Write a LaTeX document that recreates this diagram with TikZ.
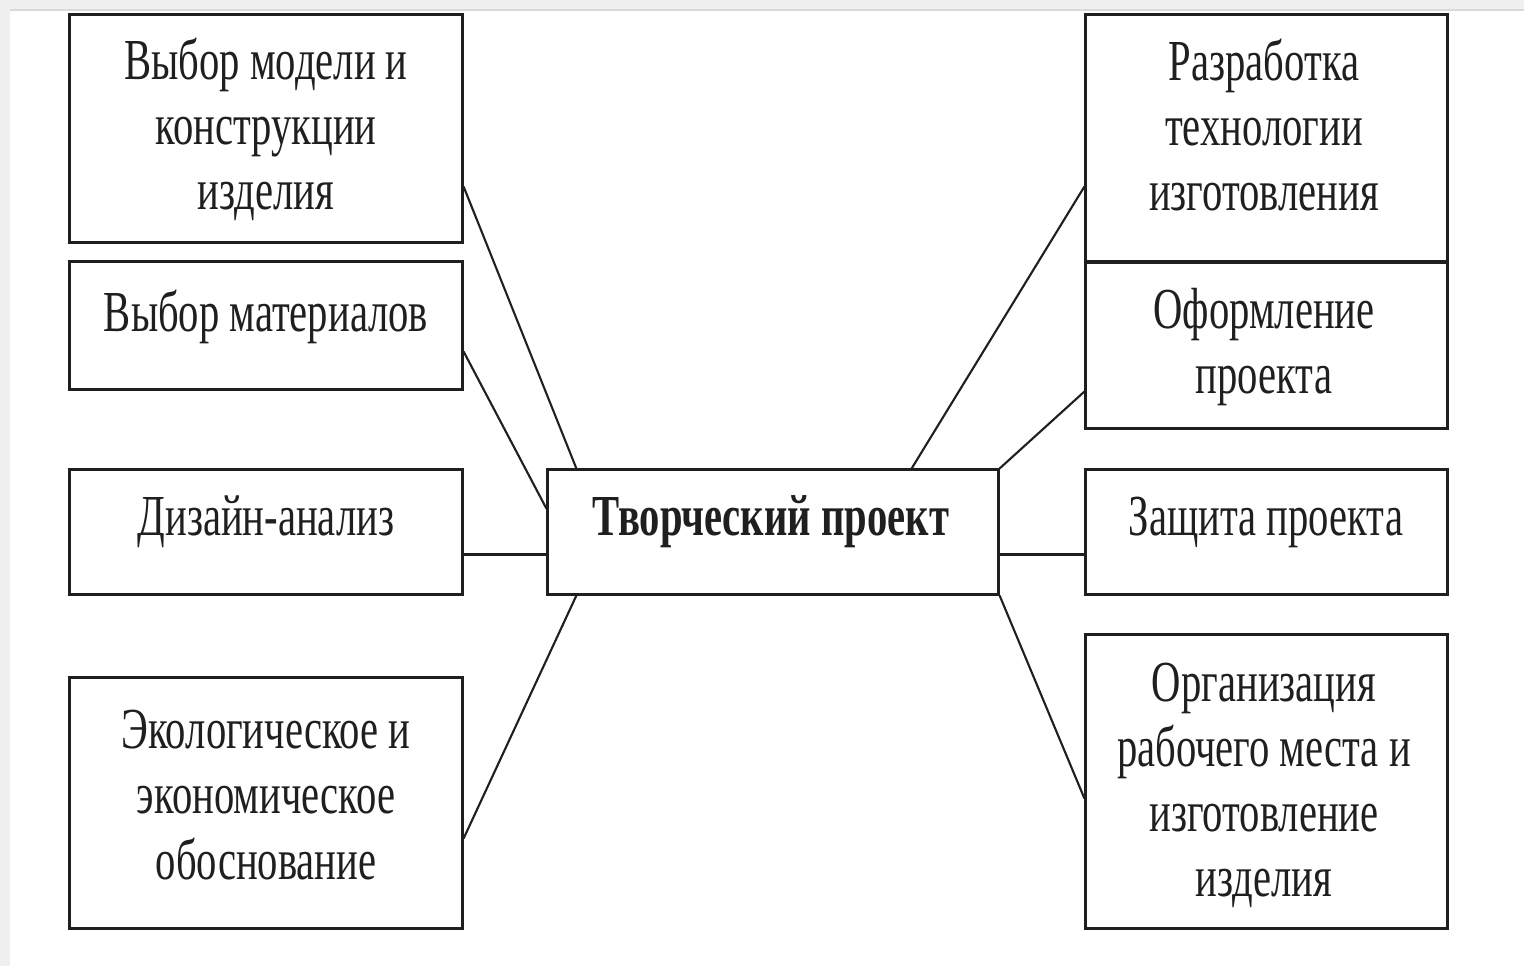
\documentclass[tikz,border=0pt]{standalone}
\usepackage{fontspec}
\setmainfont{Liberation Serif}[FakeStretch=0.7]
\usetikzlibrary{calc}
\tikzset{
  box/.style={draw=black!88, line width=0.85pt, rectangle, inner sep=0pt},
  lbl/.style={align=center, font=\fontsize{16.5}{18.5}\selectfont, text=black!88, inner sep=0pt},
  link/.style={draw=black!88, line width=0.6pt},
}
\begin{document}
\begin{tikzpicture}[x=0.01cm, y=-0.01cm]
\useasboundingbox (0,0) rectangle (1524,966);
% background decoration
\fill[black!6] (0,0) rectangle (1524,9);
\fill[black!6] (0,0) rectangle (10,966);
\draw[black!15, line width=0.5pt] (10,10) -- (1524,10);
% boxes
\node[box, minimum width=3.92cm, minimum height=2.27cm] (l1) at (266,128.5) {};
\node[box, minimum width=3.92cm, minimum height=1.27cm] (l2) at (266,325.5) {};
\node[box, minimum width=3.92cm, minimum height=1.24cm] (l3) at (266,532) {};
\node[box, minimum width=3.92cm, minimum height=2.50cm] (l4) at (266,803) {};
\node[box, minimum width=4.50cm, minimum height=1.24cm] (c) at (773,532) {};
\node[box, minimum width=3.61cm, minimum height=2.47cm] (r1) at (1266.5,138.5) {};
\node[box, minimum width=3.61cm, minimum height=1.66cm] (r2) at (1266.5,345) {};
\node[box, minimum width=3.61cm, minimum height=1.24cm] (r3) at (1266.5,532) {};
\node[box, minimum width=3.61cm, minimum height=2.93cm] (r4) at (1266.5,781.5) {};
% labels
\node[lbl] (l1t) at (266,129) {Выбор модели и\\конструкции\\изделия};
\node[lbl] (l2t) at (266,317) {Выбор материалов};
\node[lbl] (l3t) at (266,522) {Дизайн-анализ};
\node[lbl] (l4t) at (266,795) {Экологическое и\\экономическое\\обоснование};
\node[lbl, font=\fontsize{16.5}{18.5}\selectfont\bfseries] (ct) at (771,522) {Творческий проект};
\node[lbl] (r1t) at (1264,125) {Разработка\\технологии\\изготовления};
\node[lbl] (r2t) at (1264,347) {Оформление\\проекта};
\node[lbl] (r3t) at (1266,522) {Защита проекта};
\node[lbl] (r4t) at (1264,785) {Организация\\рабочего места и\\изготовление\\изделия};
% connectors
\draw[link] ($(l1.south east)+(0,-57)$) -- ($(c.north west)+(30,0)$);
\draw[link] ($(l2.south east)+(0,-39)$) -- ($(c.north west)+(0,40)$);
\draw[link] ($(l3.south east)+(0,-41)$) -- ($(c.south west)+(0,-41)$);
\draw[link] ($(l4.north east)+(0,162)$) -- ($(c.south west)+(30,0)$);
\draw[link] ($(r1.south west)+(0,-77)$) -- ($(c.north east)+(-88,0)$);
\draw[link] ($(r2.south west)+(0,-38)$) -- (c.north east);
\draw[link] ($(c.south east)+(0,-41)$) -- ($(r3.south west)+(0,-41)$);
\draw[link] (c.south east) -- ($(r4.north west)+(0,165)$);
\end{tikzpicture}
\end{document}
